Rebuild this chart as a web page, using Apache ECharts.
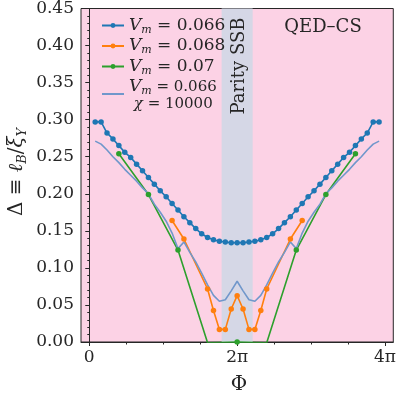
<!DOCTYPE html>
<html>
<head>
<meta charset="utf-8">
<script src="https://cdn.jsdelivr.net/npm/echarts@6/dist/echarts.min.js"></script>
<style>
  html, body { margin: 0; padding: 0; background: #fff; }
  #chart { width: 399px; height: 396px; }
</style>
</head>
<body>
<div id="chart"></div>
<script>
// Phi in units of pi
var phiBlue = [0.08,0.16,0.24,0.32,0.40,0.48,0.56,0.64,0.72,0.80,0.88,0.96,1.04,1.12,1.20,1.28,1.36,1.44,1.52,1.60,1.68,1.76,1.84,1.92,2.00,
               2.08,2.16,2.24,2.32,2.40,2.48,2.56,2.64,2.72,2.80,2.88,2.96,3.04,3.12,3.20,3.28,3.36,3.44,3.52,3.60,3.68,3.76,3.84,3.92];
var deltaBlue = [0.297,0.297,0.282,0.274,0.265,0.256,0.249,0.240,0.231,0.222,0.213,0.204,0.196,0.187,0.178,0.169,0.161,0.153,0.146,0.141,0.138,0.136,0.135,0.134,0.134,
                 0.134,0.135,0.136,0.138,0.141,0.146,0.153,0.161,0.169,0.178,0.187,0.196,0.204,0.213,0.222,0.231,0.240,0.249,0.256,0.265,0.274,0.282,0.297,0.297];
var deltaChi = [0.271,0.267,0.259,0.250,0.242,0.233,0.225,0.217,0.208,0.200,0.186,0.175,0.163,0.147,0.126,0.135,0.121,0.108,0.093,0.077,0.063,0.055,0.057,0.069,0.082,
                0.069,0.057,0.055,0.063,0.077,0.093,0.108,0.121,0.135,0.126,0.147,0.163,0.175,0.186,0.200,0.208,0.217,0.225,0.233,0.242,0.250,0.259,0.267,0.271];

var phiOrange = [1.12,1.28,1.60,1.68,1.76,1.84,1.92,2.00,2.08,2.16,2.24,2.32,2.40,2.72,2.88];
var deltaOrange = [0.164,0.139,0.0715,0.0425,0.017,0.017,0.0445,0.0625,0.0445,0.017,0.017,0.0425,0.0715,0.139,0.164];

var phiGreen = [0.4,0.8,1.2,1.6,2.0,2.4,2.8,3.2,3.6];
var deltaGreen = [0.254,0.199,0.124,-0.001,0,-0.001,0.124,0.199,0.254];

var seriesNames = ['Vm=0.066', 'Vm=0.068', 'Vm=0.07', 'Vm=0.066 chi=10000'];
var legendTexts = [
  '{i|V}{s|m}{t| = 0.066}',
  '{i|V}{s|m}{t| = 0.068}',
  '{i|V}{s|m}{t| = 0.07}',
  '{i|V}{s|m}{u| = 0.066}\n{u| }{i2|χ}{u| = 10000}'
];
var xTickValues = [0, 2, 4];
var xTickLabels = ['0', '2π', '4π'];
var xMinorTicks = [0,0.5,1,1.5,2,2.5,3,3.5,4];
var bandRange = [1.79, 2.21];

function pairs(xs, ys){
  var out = [];
  for (var i = 0; i < xs.length; i++) out.push([xs[i], ys[i]]);
  return out;
}

var serif = 'DejaVu Serif';
var ink = '#262626';
var chart = echarts.init(document.getElementById('chart'));

var lineSeries = function(name, data, color, sym){
  return {
    name: name, type: 'line', data: data,
    symbol: sym ? 'circle' : 'none', symbolSize: 5.5, showSymbol: !!sym,
    lineStyle: { color: color, width: 1.6 },
    itemStyle: { color: color },
    clip: true, z: 3
  };
};

chart.setOption({
  animation: false,
  backgroundColor: '#ffffff',
  grid: {
    left: 81, top: 6, right: 3, bottom: 54,
    show: true, backgroundColor: '#fcd2e5', borderColor: ink, borderWidth: 1
  },
  xAxis: [{
    type: 'value', min: -0.112, max: 4.112,
    axisLine: { show: true, onZero: false, lineStyle: { color: ink, width: 1 } },
    axisTick: { show: true, length: 4, customValues: xTickValues, lineStyle: { color: ink } },
    axisLabel: {
      customValues: xTickValues, margin: 7, color: ink, fontFamily: serif, fontSize: 17,
      formatter: function(v){ return xTickLabels[xTickValues.indexOf(v)]; }
    },
    splitLine: { show: false }
  }, {
    type: 'value', min: -0.112, max: 4.112, position: 'bottom',
    axisLine: { show: false },
    axisTick: { show: true, length: 2.5, customValues: xMinorTicks, lineStyle: { color: ink } },
    axisLabel: { show: false },
    splitLine: { show: false }
  }],
  yAxis: {
    type: 'value', min: 0, max: 0.45, interval: 0.05,
    axisLine: { show: true, lineStyle: { color: ink, width: 1 } },
    axisTick: { show: true, length: 4, lineStyle: { color: ink } },
    minorTick: { show: true, splitNumber: 5, length: 2, lineStyle: { color: ink } },
    axisLabel: {
      margin: 7, color: ink, fontFamily: serif, fontSize: 17,
      formatter: function(v){ return v.toFixed(2); }
    },
    splitLine: { show: false }
  },
  legend: {
    orient: 'vertical', left: 96, top: 12,
    itemWidth: 22, itemHeight: 6, itemGap: 2,
    data: [
      { name: seriesNames[0] },
      { name: seriesNames[1] },
      { name: seriesNames[2] },
      { name: seriesNames[3], itemStyle: { opacity: 0 } }
    ],
    formatter: function(name){ return legendTexts[seriesNames.indexOf(name)]; },
    textStyle: {
      fontFamily: serif, color: ink, fontSize: 17,
      rich: {
        i: { fontFamily: serif, fontStyle: 'italic', fontSize: 17, lineHeight: 20, color: ink },
        i2: { fontFamily: serif, fontStyle: 'italic', fontSize: 15, lineHeight: 14, color: ink },
        s: { fontFamily: serif, fontStyle: 'italic', fontSize: 11, lineHeight: 10, verticalAlign: 'bottom', color: ink },
        t: { fontFamily: serif, fontSize: 17, lineHeight: 20, color: ink },
        u: { fontFamily: serif, fontSize: 15, lineHeight: 14, color: ink }
      }
    }
  },
  series: [
    {
      type: 'line', data: [], silent: true, z: 1,
      markArea: {
        silent: true,
        itemStyle: { color: '#d5d7e6' },
        data: [[{ xAxis: bandRange[0] }, { xAxis: bandRange[1] }]]
      }
    },
    lineSeries(seriesNames[0], pairs(phiBlue, deltaBlue), '#1f77b4', true),
    lineSeries(seriesNames[1], pairs(phiOrange, deltaOrange), '#ff7f0e', true),
    lineSeries(seriesNames[2], pairs(phiGreen, deltaGreen), '#2ca02c', true),
    lineSeries(seriesNames[3], pairs(phiBlue, deltaChi), '#7097cb', false)
  ],
  graphic: [
    {
      type: 'text', x: 239, y: 66, rotation: Math.PI / 2, z: 10,
      style: { text: 'Parity SSB', fontFamily: serif, fontSize: 18, fill: ink, align: 'center', verticalAlign: 'middle' }
    },
    {
      type: 'text', x: 323, y: 27, z: 10,
      style: { text: 'QED–CS', fontFamily: serif, fontSize: 18, fill: ink, align: 'center', verticalAlign: 'middle' }
    },
    {
      type: 'text', x: 239, y: 385, z: 10,
      style: { text: 'Φ', fontFamily: serif, fontSize: 20, fill: ink, align: 'center', verticalAlign: 'middle' }
    },
    {
      type: 'text', x: 17, y: 172, rotation: Math.PI / 2, z: 10,
      style: {
        text: '{a|Δ ≡ }{i|ℓ}{s|B}{a|/}{i|ξ}{s|Y}',
        align: 'center', verticalAlign: 'middle', fill: ink,
        rich: {
          a: { fontFamily: serif, fontSize: 20, lineHeight: 24, fill: ink },
          i: { fontFamily: serif, fontStyle: 'italic', fontSize: 20, lineHeight: 24, fill: ink },
          s: { fontFamily: serif, fontStyle: 'italic', fontSize: 13, lineHeight: 12, verticalAlign: 'bottom', fill: ink }
        }
      }
    }
  ]
});
</script>
</body>
</html>
